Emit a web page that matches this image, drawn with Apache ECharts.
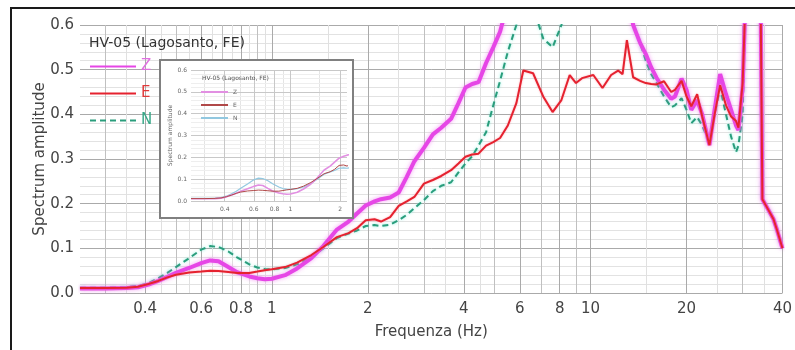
<!DOCTYPE html>
<html><head><meta charset="utf-8">
<script src="https://cdn.jsdelivr.net/npm/echarts@6/dist/echarts.min.js"></script>
<style>html,body{margin:0;padding:0;background:#fff}#c{width:795px;height:350px}</style>
</head><body><div id="c"></div><script>
// ---------- data ----------
const freq = [0.25,0.3,0.35,0.38,0.41,0.44,0.47,0.5,0.55,0.6,
  0.64,0.68,0.73,0.78,0.85,0.9,0.95,1.0,1.1,1.2,
  1.33,1.45,1.6,1.74,1.85,1.97,2.1,2.2,2.35,2.5,
  2.65,2.8,3.0,3.2,3.4,3.65,3.85,4.05,4.25,4.45,
  4.7,4.95,5.2,5.5,5.85,6.15,6.6,7.1,7.6,8.1,
  8.6,9.0,9.4,10.2,10.9,11.6,12.2,12.6,13.0,13.6,
  14.3,14.9,15.5,16.1,17.0,17.9,18.4,19.3,20.0,20.7,
  21.6,22.4,23.6,24.5,25.5,26.6,27.6,28.6,29.1,30.0,
  30.6,32.0,34.2,34.6,36.2,37.5,38.5,40];
const ampZ = [0.010,0.010,0.011,0.013,0.019,0.027,0.036,0.045,0.056,0.067,
  0.073,0.071,0.058,0.046,0.037,0.033,0.031,0.032,0.040,0.055,
  0.078,0.105,0.142,0.160,0.178,0.196,0.205,0.210,0.214,0.225,
  0.260,0.295,0.325,0.355,0.370,0.390,0.425,0.460,0.468,0.472,
  0.515,0.550,0.585,0.650,0.720,0.800,0.900,0.950,1.0,1.0,
  1.0,1.0,1.0,1.0,0.95,0.90,0.85,0.78,0.70,0.60,
  0.56,0.535,0.505,0.482,0.455,0.435,0.440,0.480,0.455,0.410,
  0.432,0.400,0.331,0.410,0.490,0.445,0.410,0.375,0.365,0.460,
  0.650,1.2,0.62,0.21,0.185,0.165,0.14,0.10];
const ampE = [0.011,0.011,0.012,0.014,0.020,0.027,0.035,0.041,0.046,0.048,
  0.050,0.049,0.047,0.045,0.045,0.048,0.051,0.053,0.058,0.068,
  0.085,0.103,0.125,0.134,0.145,0.163,0.165,0.160,0.170,0.195,
  0.205,0.215,0.245,0.253,0.262,0.275,0.290,0.305,0.310,0.312,
  0.330,0.338,0.347,0.375,0.425,0.498,0.492,0.440,0.405,0.432,
  0.488,0.470,0.481,0.488,0.459,0.488,0.498,0.490,0.566,0.483,
  0.475,0.470,0.468,0.467,0.474,0.450,0.455,0.475,0.440,0.418,
  0.445,0.395,0.331,0.400,0.465,0.420,0.395,0.385,0.370,0.470,
  0.650,1.2,0.62,0.21,0.185,0.165,0.14,0.10];
const ampN = [0.012,0.012,0.013,0.016,0.022,0.033,0.045,0.058,0.078,0.097,
  0.105,0.103,0.093,0.079,0.064,0.057,0.054,0.053,0.056,0.064,
  0.080,0.100,0.123,0.133,0.140,0.150,0.152,0.150,0.153,0.163,
  0.175,0.190,0.208,0.228,0.240,0.248,0.270,0.290,0.306,0.330,
  0.360,0.420,0.475,0.540,0.600,0.680,0.640,0.570,0.550,0.600,
  0.700,0.800,0.850,0.900,0.900,0.850,0.800,0.750,0.700,0.600,
  0.560,0.520,0.490,0.470,0.440,0.416,0.420,0.436,0.410,0.380,
  0.394,0.375,0.336,0.400,0.459,0.400,0.350,0.315,0.330,0.400,
  0.650,1.2,0.62,0.21,0.185,0.165,0.14,0.10];
const seriesNames = ['Z','E','N'];
const titleText = 'HV-05 (Lagosanto, FE)';
const xLabelTicks = [0.4,0.6,0.8,1,2,4,6,8,10,20,40];
const xMinorTicks = [0.3,0.5,0.7,0.9,3,5,7,9,30];
const xFineTicks = [0.35,0.45,0.55,0.65,0.75,0.85,0.95,1.5,2.5,3.5,4.5,15,25,35];
const insetLabelTicks = [0.4,0.6,0.8,1,2];
const insetMinorTicks = [0.3,0.5,0.7,0.9,1.5];

// ---------- chart ----------
const FONT = 'DejaVu Sans';
const pairs = (vals, maxF) => freq.map((f,i)=>[f, vals[i]]).filter(p => p[0] <= maxF);
const fmtX = v => String(+(+v).toPrecision(3));
const hiddenSymbol = {opacity:0, color:'rgba(0,0,0,0)', borderWidth:0};

const chart = echarts.init(document.getElementById('c'), null, {renderer:'canvas'});

const logX = (grid, min, max, ticks, color, labels, extra) => Object.assign({
  gridIndex: grid, type:'log', logBase:10, min:min, max:max,
  axisLine:{show:false},
  axisTick:{show:false, customValues:ticks},
  axisLabel: labels ? Object.assign({customValues:ticks, formatter:fmtX}, labels) : {show:false},
  splitLine:{show:true, lineStyle:{color:color, width:1}}
}, extra || {});

const option = {
  animation:false,
  backgroundColor:'#fff',
  grid:[
    {left:80, right:10, top:25, bottom:57},
    {left:191, top:70, width:156, height:131, z:60}
  ],
  title:[
    {text:titleText, left:84, top:31, textStyle:{fontFamily:FONT, fontSize:14, fontWeight:'normal', color:'#333'}},
    {text:titleText, left:197, top:70, z:62, textStyle:{fontFamily:FONT, fontSize:6, fontWeight:'normal', color:'#555'}}
  ],
  legend:[
    {left:84, top:54, orient:'vertical', itemWidth:46, itemHeight:14, itemGap:12,
     itemStyle:hiddenSymbol,
     textStyle:{fontFamily:FONT, fontSize:15},
     data:[{name:'Z', textStyle:{color:'#e070e0'}},{name:'E', textStyle:{color:'#e03a3a'}},{name:'N', textStyle:{color:'#38a888'}}]},
    {left:195, top:84, orient:'vertical', itemWidth:27, itemHeight:6, itemGap:7, z:62,
     itemStyle:hiddenSymbol,
     formatter: n => n.slice(1),
     textStyle:{fontFamily:FONT, fontSize:6, color:'#666'},
     data:['iZ','iE','iN']}
  ],
  xAxis:[
    logX(0, 0.25, 40, xLabelTicks, '#aaaaaa',
      {fontFamily:FONT, fontSize:15, color:'#444', margin:9},
      {name:'Frequenza (Hz)', nameLocation:'middle', nameGap:32,
       nameTextStyle:{fontFamily:FONT, fontSize:15, color:'#444'}}),
    logX(0, 0.25, 40, xMinorTicks, '#c0c0c0', null),
    logX(0, 0.25, 40, xFineTicks, '#e0e0e0', null),
    logX(1, 0.25, 2.2, insetLabelTicks, '#c8c8c8',
      {fontFamily:FONT, fontSize:6, color:'#666', margin:5}, {z:61}),
    logX(1, 0.25, 2.2, insetMinorTicks, '#e4e4e4', null, {z:60})
  ],
  yAxis:[
    {gridIndex:0, type:'value', min:0, max:0.6, interval:0.1,
     axisLine:{show:false}, axisTick:{show:false},
     axisLabel:{formatter:v=>v.toFixed(1), fontFamily:FONT, fontSize:15, color:'#444', margin:6},
     splitLine:{show:true, lineStyle:{color:'#aaaaaa'}},
     minorTick:{show:false, splitNumber:5},
     minorSplitLine:{show:true, lineStyle:{color:'#e2e2e2'}},
     name:'Spectrum amplitude', nameLocation:'middle', nameGap:32, nameRotate:90,
     nameMoveOverlap:false,
     nameTextStyle:{fontFamily:FONT, fontSize:15, color:'#444'}},
    {gridIndex:1, type:'value', min:0, max:0.6, interval:0.1, z:61,
     axisLine:{show:false}, axisTick:{show:false},
     axisLabel:{formatter:v=>v.toFixed(1), fontFamily:FONT, fontSize:6, color:'#666', margin:4},
     splitLine:{show:true, lineStyle:{color:'#c8c8c8'}},
     minorTick:{show:false, splitNumber:5},
     minorSplitLine:{show:true, lineStyle:{color:'#eeeeee'}},
     name:'Spectrum amplitude', nameLocation:'middle', nameGap:15, nameRotate:90,
     nameTextStyle:{fontFamily:FONT, fontSize:6, color:'#666'}}
  ],
  graphic:{elements:[
    {type:'rect', z:50, shape:{x:160, y:60, width:193, height:158},
     style:{fill:'#fff', stroke:'#808080', lineWidth:2}},
    {type:'rect', z:100, shape:{x:11, y:8, width:820, height:400},
     style:{fill:'none', stroke:'#1a1a1a', lineWidth:2}}
  ]},
  series:[
    {name:'N', type:'line', xAxisIndex:0, yAxisIndex:0, symbol:'none', z:2,
     data:pairs(ampN, 100),
     lineStyle:{color:'#2a9d7c', width:2, type:[6,4], shadowBlur:3, shadowColor:'rgba(60,230,200,0.6)'}},
    {name:'Z', type:'line', xAxisIndex:0, yAxisIndex:0, symbol:'none', z:3,
     data:pairs(ampZ, 100),
     lineStyle:{color:'#e646e6', width:4, shadowBlur:4, shadowColor:'rgba(240,120,240,0.7)'}},
    {name:'E', type:'line', xAxisIndex:0, yAxisIndex:0, symbol:'none', z:4,
     data:pairs(ampE, 100),
     lineStyle:{color:'#e5222f', width:2, shadowBlur:2, shadowColor:'rgba(255,120,140,0.6)'}},
    {name:'iN', type:'line', xAxisIndex:3, yAxisIndex:1, symbol:'none', z:63,
     data:pairs(ampN, 2.5), lineStyle:{color:'#92c8e0', width:1.2}},
    {name:'iZ', type:'line', xAxisIndex:3, yAxisIndex:1, symbol:'none', z:64,
     data:pairs(ampZ, 2.5), lineStyle:{color:'#e290e2', width:1.6}},
    {name:'iE', type:'line', xAxisIndex:3, yAxisIndex:1, symbol:'none', z:65,
     data:pairs(ampE, 2.5), lineStyle:{color:'#b04848', width:1}}
  ]
};
chart.setOption(option);
</script></body></html>
